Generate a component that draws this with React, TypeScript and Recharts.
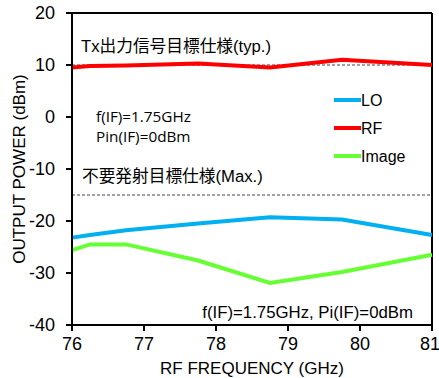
import React from 'react';
import { LineChart, Line, XAxis, YAxis, ReferenceLine, Customized } from 'recharts';

const freqs = [76, 76.25, 76.75, 77.75, 78.75, 79.75, 81];
const loValues = [-23.2, -22.7, -21.8, -20.5, -19.3, -19.7, -22.7];
const rfValues = [9.5, 9.8, 9.9, 10.3, 9.5, 11.0, 10.0];
const imageValues = [-25.6, -24.5, -24.5, -27.6, -31.9, -29.8, -26.5];

const xTicks = [76, 77, 78, 79, 80, 81];
const yTicks = [-40, -30, -20, -10, 0, 10, 20];

const seriesNames = ['LO', 'RF', 'Image'];
const seriesColors = ['#00B0F0', '#FF0000', '#66FF33'];

const data = freqs.map((f, i) => ({ f, LO: loValues[i], RF: rfValues[i], Image: imageValues[i] }));

const ARIAL = '"Liberation Sans", Arial, sans-serif';
const JP = '"Liberation Sans", "Noto Sans CJK JP", sans-serif';
const CAL = '"Open Sans", "Noto Sans", sans-serif';

const Annotations = () => (
  <g>
    <text x={81} y={52} fontFamily={JP} fontSize={16.7} fill="#000">Tx出力信号目標仕様(typ.)</text>
    <text x={96} y={122} fontFamily={CAL} fontSize={15.3} fill="#000">f(IF)=1.75GHz</text>
    <text x={96} y={142} fontFamily={CAL} fontSize={15.3} fill="#000">Pin(IF)=0dBm</text>
    <text x={82} y={182} fontFamily={JP} fontSize={16.7} fill="#000">不要発射目標仕様(Max.)</text>
    <text x={413} y={318} fontFamily={ARIAL} fontSize={16.8} textAnchor="end" fill="#000">f(IF)=1.75GHz, Pi(IF)=0dBm</text>
    {seriesNames.map((n, i) => (
      <g key={n}>
        <line x1={334} x2={361} y1={100 + i * 28} y2={100 + i * 28} stroke={seriesColors[i]} strokeWidth={4} />
        <text x={361} y={106 + i * 28} fontFamily={ARIAL} fontSize={16} fill="#000">{n}</text>
      </g>
    ))}
  </g>
);

export default function App() {
  return (
    <div style={{ position: 'absolute', left: 0, top: 0, background: '#fff' }}>
      <LineChart width={439} height={378} data={data} margin={{ top: 13, right: 7, bottom: 0, left: 0 }}>
        <XAxis
          dataKey="f"
          type="number"
          domain={[76, 81]}
          ticks={xTicks}
          height={53}
          axisLine={{ stroke: '#000', strokeWidth: 2 }}
          tickLine={{ stroke: '#000', strokeWidth: 2 }}
          tickSize={6}
          tickMargin={6}
          tick={{ fill: '#000', fontSize: 18, fontFamily: ARIAL }}
          label={{ value: 'RF FREQUENCY (GHz)', position: 'insideBottom', offset: 4, fill: '#000', fontSize: 17, fontFamily: ARIAL }}
        />
        <YAxis
          type="number"
          domain={[-40, 20]}
          ticks={yTicks}
          width={72}
          axisLine={{ stroke: '#000', strokeWidth: 2 }}
          tickLine={{ stroke: '#000', strokeWidth: 2 }}
          tickSize={6}
          tickMargin={11}
          tick={{ fill: '#000', fontSize: 18, fontFamily: ARIAL }}
          label={{ value: 'OUTPUT POWER (dBm)', angle: -90, position: 'insideLeft', offset: 19, fill: '#000', fontSize: 17, fontFamily: ARIAL, style: { textAnchor: 'middle' } }}
        />
        <ReferenceLine y={20} stroke="#000" strokeWidth={2} />
        <ReferenceLine x={81} stroke="#000" strokeWidth={2} />
        <ReferenceLine y={10} stroke="#444" strokeWidth={1} strokeDasharray="3 2" />
        <ReferenceLine y={-15} stroke="#444" strokeWidth={1} strokeDasharray="3 2" />
        <Line dataKey="LO" stroke={seriesColors[0]} strokeWidth={4} dot={false} isAnimationActive={false} />
        <Line dataKey="RF" stroke={seriesColors[1]} strokeWidth={4} dot={false} isAnimationActive={false} />
        <Line dataKey="Image" stroke={seriesColors[2]} strokeWidth={4} dot={false} isAnimationActive={false} />
        <Customized component={Annotations} />
      </LineChart>
    </div>
  );
}
